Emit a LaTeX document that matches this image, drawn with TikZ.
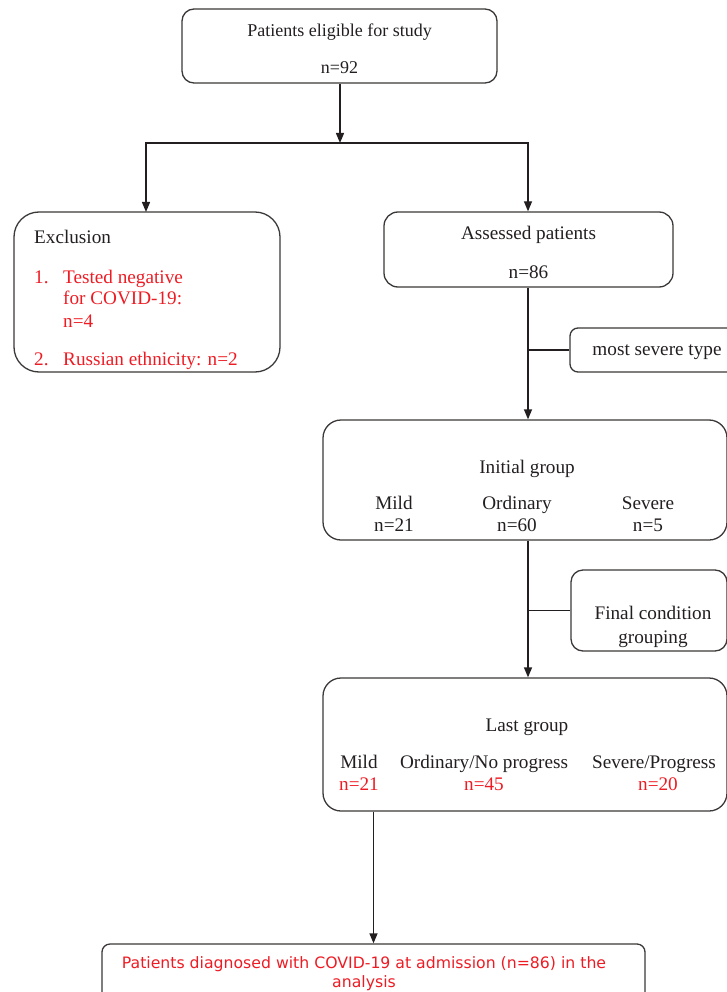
\documentclass[tikz,border=0pt]{standalone}
\usepackage{fontspec}
\setmainfont{Liberation Serif}
\newfontfamily\bsans{DejaVu Sans}
\usetikzlibrary{arrows.meta}
\definecolor{ink}{RGB}{35,31,32}
\definecolor{edge}{RGB}{60,56,56}
\definecolor{redt}{RGB}{237,28,36}
\tikzset{
  box/.style={draw=edge, line width=1.3pt, inner sep=0pt},
  arr/.style={draw=ink, line width=1.3pt, -{Triangle[length=10pt,width=8pt]}},
  ln/.style={draw=ink, line width=1.3pt},
  txt/.style={inner sep=0pt, text=ink, font=\fontsize{19.2}{23}\selectfont, text height=0.7em, text depth=0.2em, yshift=-4pt},
  rtxt/.style={txt, text=redt},
}
\begin{document}
\begin{tikzpicture}[x=1pt,y=-1pt]
\useasboundingbox (0,0) rectangle (726,992);
% boxes
\node[box, rounded corners=12pt, minimum width=315pt, minimum height=74pt] (top) at (339.5,46) {};
\node[box, rounded corners=25pt, minimum width=266pt, minimum height=160pt] (excl) at (147,292) {};
\node[box, rounded corners=14pt, minimum width=289pt, minimum height=75pt] (assess) at (528.5,249.5) {};
\node[box, rounded corners=8pt, minimum width=170pt, minimum height=44pt] (most) at (655,350) {};
\node[box, rounded corners=18pt, minimum width=404pt, minimum height=120pt] (init) at (525,480) {};
\node[box, rounded corners=12pt, minimum width=156pt, minimum height=81pt] (final) at (649,610.5) {};
\node[box, rounded corners=18pt, minimum width=404pt, minimum height=133pt] (last) at (525,744.5) {};
\node[box, rounded corners=8pt, minimum width=543pt, minimum height=61pt] (bottom) at (373.5,974.5) {};
% connectors
\coordinate (split) at (340,143);
\coordinate (spine) at (528,0);
\draw[arr] (top.south -| split) -- (split);
\draw[arr] (split) -| (146,212);
\draw[arr] (split) -| (spine |- assess.north);
\draw[arr] (spine |- assess.south) -- (spine |- init.north);
\draw[ln] (most.west) -- (most.west -| spine);
\draw[arr] (spine |- init.south) -- (spine |- last.north);
\draw[ln] (final.west) -- (final.west -| spine);
\draw[arr] (bottom.north |- last.south) -- (bottom.north);
% texts
\node[txt, font=\fontsize{18}{21}\selectfont] (t1) at (339.5,30) {Patients eligible for study};
\node[txt, font=\fontsize{18}{21}\selectfont] (t2) at (339.5,67) {n=92};
\node[txt, anchor=west] (ex) at (34,237) {Exclusion};
\node[rtxt, anchor=west] (e1n) at (34,277) {1.};
\node[rtxt, anchor=west] (e1a) at (63,277) {Tested negative};
\node[rtxt, anchor=west] (e1b) at (63,298) {for COVID-19:};
\node[rtxt, anchor=west] (e1c) at (63,321) {n=4};
\node[rtxt, anchor=west] (e2n) at (34,359) {2.};
\node[rtxt, anchor=west] (e2a) at (63,359) {Russian ethnicity: n=2};
\node[txt] (a1) at (528.5,233) {Assessed patients};
\node[txt] (a2) at (528.5,272) {n=86};
\node[txt] (m1) at (657,349) {most severe type};
\node[txt] (i0) at (527,467) {Initial group};
\node[txt] (i1) at (394,503) {Mild};
\node[txt] (i1n) at (394,525) {n=21};
\node[txt] (i2) at (517,503) {Ordinary};
\node[txt] (i2n) at (517,525) {n=60};
\node[txt] (i3) at (648,503) {Severe};
\node[txt] (i3n) at (648,525) {n=5};
\node[txt] (f1) at (653,613) {Final condition};
\node[txt] (f2) at (653,637) {grouping};
\node[txt] (l0) at (527,725) {Last group};
\node[txt] (l1) at (359,762) {Mild};
\node[rtxt] (l1n) at (359,784) {n=21};
\node[txt] (l2) at (484,762) {Ordinary/No progress};
\node[rtxt] (l2n) at (484,784) {n=45};
\node[txt] (l3) at (654,762) {Severe/Progress};
\node[rtxt] (l3n) at (658,784) {n=20};
\node[rtxt, font=\bsans\fontsize{15.7}{19}\selectfont, yshift=0pt] (b1) at (364,962) {Patients diagnosed with COVID-19 at admission (n=86) in the};
\node[rtxt, font=\bsans\fontsize{15.7}{19}\selectfont, yshift=0pt] (b2) at (364,981) {analysis};
\end{tikzpicture}
\end{document}
